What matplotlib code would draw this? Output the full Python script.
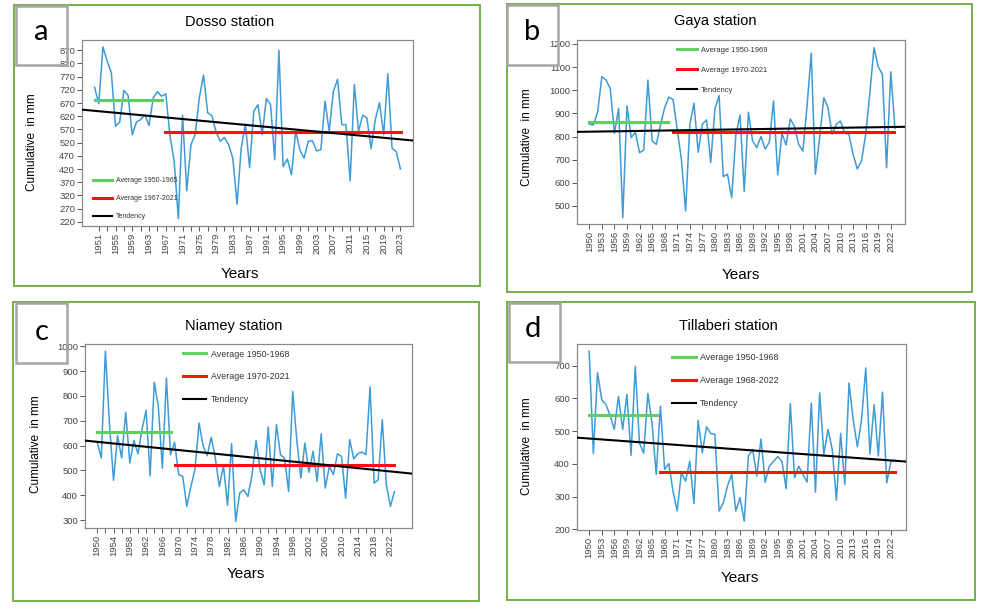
import numpy as np
import matplotlib
matplotlib.use("Agg")
import matplotlib.pyplot as plt
from matplotlib.patches import Rectangle

plt.rcParams['font.family'] = ['Liberation Sans', 'DejaVu Sans']

W, H = 995, 608

# rainfall series (mm), one value per year
years = np.arange(1950, 2024)

dosso = [730, 667, 883, 829, 785, 582, 598, 718, 699, 550,
         598, 607, 626, 585, 690, 713, 696, 705, 545, 450,
         232, 624, 337, 512, 550, 690, 776, 633, 622, 560,
         525, 540, 512, 461, 286, 500, 590, 425, 639, 664,
         550, 687, 664, 455, 870, 429, 458, 398, 563, 493,
         461, 525, 527, 489, 493, 677, 563, 715, 760, 588,
         588, 375, 740, 563, 624, 613, 497, 607, 671, 550,
         781, 499, 486, 420]

gaya = [853, 850, 907, 1059, 1044, 1008, 814, 922, 449, 933,
        795, 818, 730, 742, 1044, 781, 766, 850, 925, 970,
        960, 830, 700, 478, 850, 944, 732, 853, 872, 688,
        919, 977, 627, 637, 536, 807, 893, 562, 905, 781,
        752, 800, 746, 775, 954, 634, 814, 763, 876, 843,
        766, 737, 930, 1160, 637, 792, 968, 925, 810, 853,
        867, 814, 810, 723, 660, 694, 807, 987, 1184, 1102,
        1069, 665, 1080, 835]

niamey = [613, 550, 980, 690, 460, 640, 550, 734, 530, 621,
          567, 664, 742, 478, 855, 758, 509, 872, 563, 613,
          483, 476, 355, 435, 503, 691, 599, 559, 634, 550,
          435, 519, 360, 608, 294, 409, 422, 395, 480, 620,
          503, 442, 675, 435, 684, 563, 550, 415, 818, 624,
          469, 610, 492, 577, 456, 647, 429, 516, 483, 567,
          556, 388, 624, 546, 567, 574, 563, 836, 449, 462,
          704, 442, 355, 415]

tillaberi = [744, 432, 678, 596, 581, 548, 505, 606, 505, 612,
             426, 698, 464, 432, 615, 525, 368, 576, 383, 401,
             317, 256, 373, 347, 408, 279, 533, 434, 513, 493,
             490, 256, 281, 332, 368, 256, 297, 225, 424, 444,
             363, 476, 344, 393, 408, 422, 408, 324, 584, 358,
             393, 368, 344, 586, 314, 617, 429, 505, 444, 289,
             493, 337, 647, 535, 452, 535, 693, 430, 581, 424,
             619, 342, 408, 411]

# period averages: (first year, last year, mm)
dosso_avg1, dosso_avg2 = (1950, 1966.1, 681), (1966.9, 2023.2, 560)
gaya_avg1, gaya_avg2 = (1950, 1968.9, 864), (1969.9, 2022.8, 821)
niamey_avg1, niamey_avg2 = (1950, 1968.1, 653), (1969.1, 2022.8, 523)
till_avg1, till_avg2 = (1950, 1966.1, 548), (1966.9, 2023.0, 376)

# tendency line values at the left and right edge of the plot
dosso_trend = (645, 528)
gaya_trend = (820, 842)
niamey_trend = (620, 487)
till_trend = (480, 407)

dosso_labels = ['Average 1950-1965', 'Average 1967-2021', 'Tendency']
gaya_labels = ['Average 1950-1969', 'Average 1970-2021', 'Tendency']
niamey_labels = ['Average 1950-1968', 'Average 1970-2021', 'Tendency']
till_labels = ['Average 1950-1968', 'Average 1968-2022', 'Tendency']

BLUE = '#3d9bd6'
GREEN = '#5fd05f'
RED = '#ff1010'
BORDER = '#72b04c'


def frac(x0, y0, x1, y1):
    return [x0 / W, 1 - y1 / H, (x1 - x0) / W, (y1 - y0) / H]


panels = [
    dict(name='Dosso station', letter='a', data=dosso, avg=(dosso_avg1, dosso_avg2),
         trend=dosso_trend, labels=dosso_labels,
         box=(14, 5, 480, 286), lbox=(16, 6, 67, 65), ax=(82, 40, 413, 226),
         xlim=(1947.0, 2026.0), ylim=(204, 909), yticks=np.arange(220, 871, 50),
         xt=(1951, 2023, 2, 4), title=(230, 22), xl=(240, 274), yl=(32, 142),
         letterpos=(41, 32), leg=(0.033, 0.262), legfs=5.0, legsp=1.6, hl=2.8),
    dict(name='Gaya station', letter='b', data=gaya, avg=(gaya_avg1, gaya_avg2),
         trend=gaya_trend, labels=gaya_labels,
         box=(507, 4, 972, 292), lbox=(507, 5, 558, 65), ax=(577, 40, 905, 224),
         xlim=(1947.06, 2025.4), ylim=(422, 1217), yticks=np.arange(500, 1201, 100),
         xt=(1950, 2022, 3, 3), title=(715, 21), xl=(741, 275), yl=(527, 137),
         letterpos=(532, 32), leg=(0.305, 0.965), legfs=5.4, legsp=1.7, hl=2.7),
    dict(name='Niamey station', letter='c', data=niamey, avg=(niamey_avg1, niamey_avg2),
         trend=niamey_trend, labels=niamey_labels,
         box=(13, 302, 479, 601), lbox=(16, 303, 67, 363), ax=(85, 344, 412, 528),
         xlim=(1947.0, 2027.3), ylim=(268, 1009), yticks=np.arange(300, 1001, 100),
         xt=(1950, 2022, 2, 4), title=(234, 326), xl=(246, 574), yl=(36, 444),
         letterpos=(42, 332), leg=(0.3, 0.97), legfs=6.4, legsp=1.55, hl=2.6),
    dict(name='Tillaberi station', letter='d', data=tillaberi, avg=(till_avg1, till_avg2),
         trend=till_trend, labels=till_labels,
         box=(507, 302, 975, 600), lbox=(509, 303, 560, 362), ax=(577, 344, 906, 530),
         xlim=(1947.1, 2025.6), ylim=(198, 766), yticks=np.arange(200, 701, 100),
         xt=(1950, 2022, 3, 3), title=(728, 326), xl=(740, 578), yl=(527, 446),
         letterpos=(533, 329), leg=(0.29, 0.95), legfs=6.4, legsp=1.55, hl=2.6),
]

fig = plt.figure(figsize=(W / 100, H / 100), dpi=100)

for p in panels:
    ax = fig.add_axes(frac(*p['ax']))
    ax.plot(years, p['data'], color=BLUE, lw=1.1, zorder=2)
    (g0, g1, gv), (r0, r1, rv) = p['avg']
    ax.plot([g0, g1], [gv, gv], color=GREEN, lw=2.2, label=p['labels'][0], zorder=3)
    ax.plot([r0, r1], [rv, rv], color=RED, lw=2.2, label=p['labels'][1], zorder=3)
    ax.plot(p['xlim'], p['trend'], color='black', lw=1.5, label=p['labels'][2], zorder=4)
    ax.set_xlim(*p['xlim'])
    ax.set_ylim(*p['ylim'])

    first, last, step, lstep = p['xt']
    ticks = list(range(first, last + 1, step))
    ax.set_xticks(ticks)
    ax.set_xticklabels([str(t) if (t - first) % lstep == 0 else '' for t in ticks],
                       rotation=90)
    ax.set_yticks(p['yticks'])
    ax.tick_params(direction='out', length=3.5, width=0.7, color='#555555',
                   labelsize=6.8, labelcolor='#444444', pad=1.5)
    for s in ax.spines.values():
        s.set_color('#8a8a8a')
        s.set_linewidth(0.9)

    leg = ax.legend(loc='upper left', bbox_to_anchor=p['leg'], frameon=False,
                    fontsize=p['legfs'], handlelength=p['hl'], handletextpad=0.5,
                    labelspacing=p['legsp'], borderpad=0, borderaxespad=0)
    for t in leg.get_texts():
        t.set_color('#333333')

    tx, ty = p['title']
    fig.text(tx / W, 1 - ty / H, p['name'], ha='center', va='center', fontsize=10.5)
    xx, xy = p['xl']
    fig.text(xx / W, 1 - xy / H, 'Years', ha='center', va='center', fontsize=11)
    yx, yy = p['yl']
    fig.text(yx / W, 1 - yy / H, 'Cumulative  in mm', ha='center', va='center',
             fontsize=8.5, rotation=90)

    bx0, by0, bx1, by1 = p['box']
    fig.add_artist(Rectangle((bx0 / W, 1 - by1 / H), (bx1 - bx0) / W, (by1 - by0) / H,
                             transform=fig.transFigure, fill=False, ec=BORDER, lw=1.4))
    lx0, ly0, lx1, ly1 = p['lbox']
    fig.add_artist(Rectangle((lx0 / W, 1 - ly1 / H), (lx1 - lx0) / W, (ly1 - ly0) / H,
                             transform=fig.transFigure, fill=False, ec='#a5a5a5', lw=1.8))
    px, py = p['letterpos']
    fig.text(px / W, 1 - py / H, p['letter'], ha='center', va='center', fontsize=21,
             family=['Lato', 'DejaVu Sans'])

fig.savefig('out.png', dpi=100)
